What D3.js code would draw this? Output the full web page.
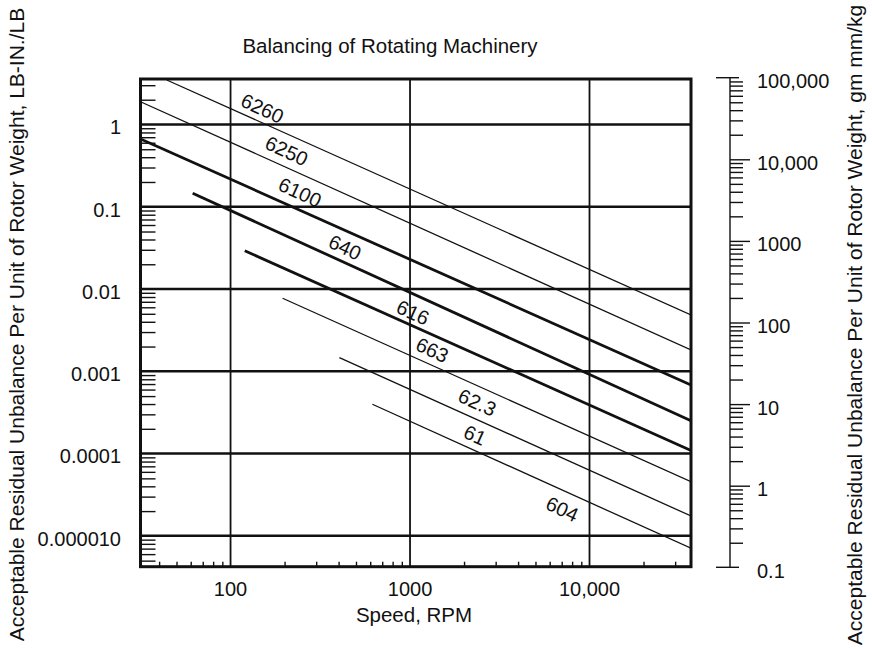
<!DOCTYPE html>
<html>
<head>
<meta charset="utf-8">
<script src="https://cdn.jsdelivr.net/npm/d3@7"></script>
<style>
  html, body { margin: 0; padding: 0; background: #fff; }
  svg { display: block; font-family: "Liberation Sans", Arial, Helvetica, sans-serif; }
</style>
</head>
<body>
<script>
// Speed axis (RPM), log scale
const speedTicks = [100, 1000, 10000];
const speedTickLabels = ["100", "1000", "10,000"];

// Left axis: unbalance, LB-IN./LB
const unbTicks = [1, 0.1, 0.01, 0.001, 0.0001, 0.00001];
const unbTickLabels = ["1", "0.1", "0.01", "0.001", "0.0001", "0.000010"];

// Right axis: unbalance, gm mm/kg
const metricTicks = [100000, 10000, 1000, 100, 10, 1, 0.1];
const metricTickLabels = ["100,000", "10,000", "1000", "100", "10", "1", "0.1"];

// Balance grade lines: start and end points (RPM, LB-IN./LB)
const lineStartRPM = [44.1, 31.5, 31.5, 61.5, 120, 195, 404, 617];
const lineStartUnb = [3.47, 1.89, 0.667, 0.146, 0.0292, 0.00772, 0.001465, 0.000398];
const lineEndRPM   = [36770, 36770, 36770, 36770, 36770, 36770, 36770, 36770];
const lineEndUnb   = [0.00484, 0.001817, 0.000682, 0.000251, 0.000109, 4.56e-5, 1.745e-5, 7.07e-6];

// Grade labels and where they sit (RPM, LB-IN./LB)
const gradeLabels   = ["6260", "6250", "6100", "640", "616", "663", "62.3", "61", "604"];
const gradeLabelRPM = [150.4, 205.6, 243.9, 434.5, 1039, 1331, 2371, 2302, 7055];
const gradeLabelUnb = [1.574, 0.480, 0.150, 0.03218, 0.00519, 0.001817, 0.000420, 0.0001684, 2.12e-5];

// Heavier strokes for the middle grades
const heavyLines = new Set([2, 3, 4]);

const W = 872, H = 649;
const plot = { left: 140.5, top: 79, right: 691, bottom: 566.7 };

const x = d3.scaleLog().domain([31.5, 36770]).range([plot.left, plot.right]);
const y = d3.scaleLog().domain([3.57, 4.22e-6]).range([plot.top, plot.bottom]);
const yR = d3.scaleLog().domain([0.1, 100000]).range([567.3, 77.7]);

// minor tick values: 2..9 times each power of ten, kept inside a domain
function minorTicks(lo, hi) {
  const out = [];
  for (let e = Math.floor(Math.log10(lo)) - 1; e <= Math.ceil(Math.log10(hi)); e++) {
    for (let m = 2; m <= 9; m++) {
      const v = m * Math.pow(10, e);
      if (v > lo * 1.0001 && v < hi / 1.0001) out.push(v);
    }
  }
  return out;
}

const svg = d3.select("body").append("svg").attr("width", W).attr("height", H);
svg.append("rect").attr("width", W).attr("height", H).attr("fill", "#fff");

const ink = "#111";
const fs = 20;
const titleFs = 21;

// Title
svg.append("text")
  .attr("x", 390).attr("y", 53)
  .attr("text-anchor", "middle")
  .attr("font-size", 20.5)
  .attr("fill", ink)
  .text("Balancing of Rotating Machinery");

// Grid: vertical lines at decades of speed
svg.append("g").selectAll("line").data(speedTicks).join("line")
  .attr("x1", d => x(d)).attr("x2", d => x(d))
  .attr("y1", plot.top).attr("y2", plot.bottom)
  .attr("stroke", ink).attr("stroke-width", 1.8);

// Grid: horizontal lines at decades of unbalance
svg.append("g").selectAll("line").data(unbTicks).join("line")
  .attr("x1", plot.left).attr("x2", plot.right)
  .attr("y1", d => y(d)).attr("y2", d => y(d))
  .attr("stroke", ink).attr("stroke-width", 2.5);

// Minor ticks on the left frame, pointing into the plot
const yMinor = minorTicks(y.domain()[1], y.domain()[0]);
svg.append("g")
  .attr("transform", `translate(${plot.left},0)`)
  .call(d3.axisLeft(y).tickValues(yMinor).tickSize(-15).tickFormat(""))
  .call(g => g.select(".domain").remove())
  .call(g => g.selectAll(".tick line").attr("stroke", ink).attr("stroke-width", 1.4));

// Minor ticks on the bottom frame, pointing into the plot
const xMinor = minorTicks(x.domain()[0], x.domain()[1]);
svg.append("g")
  .attr("transform", `translate(0,${plot.bottom})`)
  .call(d3.axisBottom(x).tickValues(xMinor).tickSize(-5).tickFormat(""))
  .call(g => g.select(".domain").remove())
  .call(g => g.selectAll(".tick line").attr("stroke", ink).attr("stroke-width", 1.4));

// Grade lines, clipped to the plot area
svg.append("clipPath").attr("id", "plotClip")
  .append("rect")
  .attr("x", plot.left).attr("y", plot.top)
  .attr("width", plot.right - plot.left).attr("height", plot.bottom - plot.top);

const gradeLines = lineStartRPM.map((s, i) => ({
  i,
  pts: [[s, lineStartUnb[i]], [lineEndRPM[i], lineEndUnb[i]]]
}));
const lineGen = d3.line().x(d => x(d[0])).y(d => y(d[1]));
svg.append("g").attr("clip-path", "url(#plotClip)")
  .selectAll("path").data(gradeLines).join("path")
  .attr("d", d => lineGen(d.pts))
  .attr("fill", "none")
  .attr("stroke", ink)
  .attr("stroke-width", d => heavyLines.has(d.i) ? 2.8 : 1.3);

// Grade labels, turned to follow the lines
const angle = Math.atan2(y(0.01) - y(0.1), x(1000) - x(100)) * 180 / Math.PI;
svg.append("g").selectAll("text").data(gradeLabels).join("text")
  .attr("transform", (d, i) => `translate(${x(gradeLabelRPM[i])},${y(gradeLabelUnb[i])}) rotate(${angle})`)
  .attr("text-anchor", "middle")
  .attr("dy", "0.36em")
  .attr("font-size", fs)
  .attr("fill", ink)
  .text(d => d);

// Frame
svg.append("rect")
  .attr("x", plot.left).attr("y", plot.top)
  .attr("width", plot.right - plot.left).attr("height", plot.bottom - plot.top)
  .attr("fill", "none").attr("stroke", ink).attr("stroke-width", 3);

// Bottom tick labels and axis title
svg.append("g").selectAll("text").data(speedTicks).join("text")
  .attr("x", d => x(d)).attr("y", 596)
  .attr("text-anchor", "middle")
  .attr("font-size", fs).attr("fill", ink)
  .text((d, i) => speedTickLabels[i]);
svg.append("text")
  .attr("x", 414).attr("y", 621.5)
  .attr("text-anchor", "middle")
  .attr("font-size", 20.5).attr("fill", ink)
  .text("Speed, RPM");

// Left tick labels and axis title
svg.append("g").selectAll("text").data(unbTicks).join("text")
  .attr("x", 121).attr("y", d => y(d) + 9.8)
  .attr("text-anchor", "end")
  .attr("font-size", fs).attr("fill", ink)
  .text((d, i) => unbTickLabels[i]);
svg.append("text")
  .attr("transform", "translate(24,324.5) rotate(-90)")
  .attr("text-anchor", "middle")
  .attr("font-size", titleFs).attr("fill", ink)
  .text("Acceptable Residual Unbalance Per Unit of Rotor Weight, LB-IN./LB");

// Right-hand metric scale
const axR = 730;
const rightAxis = svg.append("g");
rightAxis.append("line")
  .attr("x1", axR).attr("x2", axR)
  .attr("y1", yR(100000)).attr("y2", yR(0.1))
  .attr("stroke", ink).attr("stroke-width", 1.4);
const rMinor = minorTicks(0.1, 100000);
rightAxis.append("g")
  .attr("transform", `translate(${axR},0)`)
  .call(d3.axisRight(yR).tickValues(rMinor).tickSize(13).tickFormat(""))
  .call(g => g.select(".domain").remove())
  .call(g => g.selectAll(".tick line").attr("stroke", ink).attr("stroke-width", 1.4));
const innerMajors = metricTicks.filter(v => v !== 100000 && v !== 0.1);
rightAxis.append("g")
  .attr("transform", `translate(${axR},0)`)
  .call(d3.axisRight(yR).tickValues(innerMajors).tickSize(20).tickFormat(""))
  .call(g => g.select(".domain").remove())
  .call(g => g.selectAll(".tick line").attr("stroke", ink).attr("stroke-width", 1.4));
rightAxis.selectAll("line.end").data([100000, 0.1]).join("line")
  .attr("class", "end")
  .attr("x1", axR - 14).attr("x2", axR + 9)
  .attr("y1", d => yR(d)).attr("y2", d => yR(d))
  .attr("stroke", ink).attr("stroke-width", 1.4);
rightAxis.append("g").selectAll("text").data(metricTicks).join("text")
  .attr("x", 757).attr("y", d => yR(d) + 10.5)
  .attr("font-size", fs).attr("fill", ink)
  .text((d, i) => metricTickLabels[i]);
svg.append("text")
  .attr("transform", "translate(862,325) rotate(-90)")
  .attr("text-anchor", "middle")
  .attr("font-size", titleFs).attr("fill", ink)
  .text("Acceptable Residual Unbalance Per Unit of Rotor Weight, gm mm/kg");
</script>
</body>
</html>
